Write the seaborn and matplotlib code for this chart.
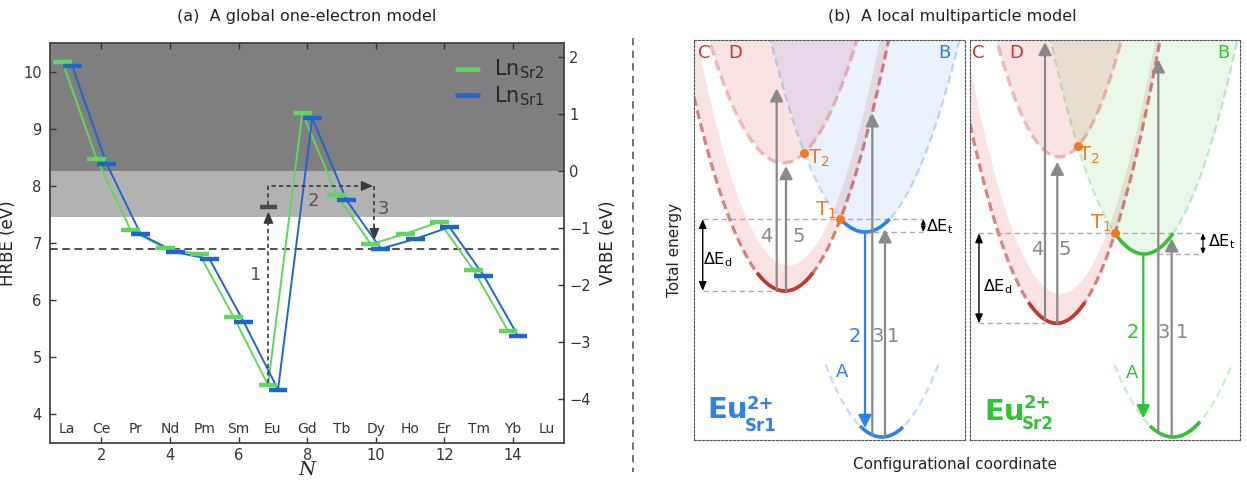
import numpy as np
import pandas as pd
import matplotlib
matplotlib.use("Agg")
import matplotlib.pyplot as plt
import seaborn as sns
from matplotlib.lines import Line2D

# ---------------- panel (a) data ----------------
lanthanides = ['La', 'Ce', 'Pr', 'Nd', 'Pm', 'Sm', 'Eu', 'Gd', 'Tb', 'Dy', 'Ho', 'Er', 'Tm', 'Yb', 'Lu']
n_all = list(range(1, 16))
n_data = list(range(1, 15))
hrbe_sr2 = [10.18, 8.47, 7.22, 6.91, 6.80, 5.70, 4.51, 9.28, 7.84, 6.98, 7.16, 7.37, 6.52, 5.46]
hrbe_sr1 = [10.10, 8.39, 7.15, 6.84, 6.72, 5.62, 4.43, 9.19, 7.75, 6.90, 7.07, 7.28, 6.43, 5.37]
vrbe_zero = 8.265        # HRBE value where VRBE = 0
light_band_bottom = 7.45
dashed_level = 6.90
eu_excited = 7.63
x_ticks = [2, 4, 6, 8, 10, 12, 14]
hrbe_ticks = [4, 5, 6, 7, 8, 9, 10]
vrbe_ticks = [-4, -3, -2, -1, 0, 1, 2]

# ---------------- panel (b) schematic parameters ----------------
# parabolas A, B, C, D : E = e0 + k (x - x0)^2   (box-local units)
sr1_x0 = [188, 171, 91, 89]
sr1_e0 = [3, 208, 149, 277]
sr1_k = [0.0228, 0.0215, 0.0234, 0.0225]
sr2_x0 = [203, 174, 86.7, 89]
sr2_e0 = [3, 186, 116.7, 283]
sr2_k = [0.021, 0.0245, 0.0265, 0.030]
band_offset = [26, 30]
band_k = [0.027, 0.028]
# transitions 4, 5, 3, 1 (up) and 2 (down)
sr1_arrow_x = [82.7, 92, 178.3, 191, 171]
sr1_arrow_end = [351.7, 274, 326.7, 210.7, 12]
sr2_arrow_x = [75, 87.3, 188.3, 201.7, 173.3]
sr2_arrow_end = [398, 278.3, 380.7, 201.7, 21.7]

W, H = 1247, 480
green = '#5fd65f'
blue = '#1f66cc'

sns.set_style("white")
plt.rcParams['font.family'] = ['DejaVu Sans']
plt.rcParams['mathtext.fontset'] = 'dejavusans'

fig = plt.figure(figsize=(W / 100, H / 100), dpi=100)

# ================= panel (a) =================
ax = fig.add_axes([50 / W, 1 - 442.7 / H, (564.3 - 50) / W, (442.7 - 43.3) / H])
ax.set_xlim(0.5, 15.5)
ax.set_ylim(3.5, 10.5)
ax.axhspan(vrbe_zero, 10.5, color='#7f7f7f', lw=0, zorder=0)
ax.axhspan(light_band_bottom, vrbe_zero, color='#b2b2b2', lw=0, zorder=0)
ax.axhline(dashed_level, color='#222222', lw=1.1, ls=(0, (5, 3)), zorder=1)

df = pd.DataFrame({'N': n_data * 2,
                   'HRBE': hrbe_sr2 + hrbe_sr1,
                   'site': ['Sr2'] * len(n_data) + ['Sr1'] * len(n_data)})
df['x'] = df['N'] + df['site'].map({'Sr2': -0.14, 'Sr1': 0.15})
sns.lineplot(data=df, x='x', y='HRBE', hue='site', palette={'Sr2': green, 'Sr1': blue},
             estimator=None, sort=False, lw=1.4, legend=False, ax=ax, zorder=3)
for site, col in [('Sr2', green), ('Sr1', blue)]:
    d = df[df['site'] == site]
    ax.hlines(d['HRBE'], d['x'] - 0.275, d['x'] + 0.275, color=col, lw=3.2, zorder=4)

# Eu excited level + transitions
acol = '#3a3a3a'
ax.hlines([eu_excited], [6.62], [7.13], color='#4a4a4a', lw=3.2, zorder=5)
ax.plot([6.87, 6.87], [4.55, 7.45], color=acol, lw=1.2, ls=(0, (2.5, 2)), zorder=5)
ax.plot([6.87, 6.87, 9.86], [7.66, 8.0, 8.0], color=acol, lw=1.2, ls=(0, (2.5, 2)), zorder=5)
ax.plot([9.96, 9.96], [8.0, 7.12], color=acol, lw=1.2, ls=(0, (2.5, 2)), zorder=5)
hp = dict(arrowstyle='-|>,head_length=0.7,head_width=0.3', color=acol, lw=1.0,
          mutation_scale=10, shrinkA=0, shrinkB=0)
ax.annotate('', xy=(6.87, 7.55), xytext=(6.87, 7.35), arrowprops=hp, zorder=6)
ax.annotate('', xy=(9.92, 8.0), xytext=(9.6, 8.0), arrowprops=hp, zorder=6)
ax.annotate('', xy=(9.96, 7.05), xytext=(9.96, 7.3), arrowprops=hp, zorder=6)
ax.text(6.5, 6.44, '1', fontsize=13, color='#555555', ha='center', va='center')
ax.text(8.18, 7.74, '2', fontsize=13, color='#555555', ha='center', va='center')
ax.text(10.22, 7.59, '3', fontsize=13, color='#555555', ha='center', va='center')

for n, name in zip(n_all, lanthanides):
    ax.text(n, 3.74, name, fontsize=10, color='#333333', ha='center', va='center')

ax.set_xticks(x_ticks)
ax.set_yticks(hrbe_ticks)
ax.tick_params(axis='both', direction='in', length=4, width=1, labelsize=10.5,
               colors='#333333', top=True, right=False, bottom=True, left=True)
ax.tick_params(axis='y', pad=6)
ax.set_xlabel('N', fontsize=14, family='DejaVu Serif', style='italic', labelpad=-1)
ax.set_ylabel('HRBE (eV)', fontsize=12, color='#222222', labelpad=4)
for s in ax.spines.values():
    s.set_color('#444444')
    s.set_linewidth(1.3)

ax2 = ax.twinx()
ax2.set_ylim(3.5 - vrbe_zero, 10.5 - vrbe_zero)
ax2.set_yticks(vrbe_ticks)
ax2.set_yticklabels([('\u2212%d' % -v) if v < 0 else '%d' % v for v in vrbe_ticks])
ax2.tick_params(axis='y', direction='in', length=4, width=1, labelsize=10.5, colors='#333333')
ax2.set_ylabel('VRBE (eV)', fontsize=12, color='#222222', labelpad=6)
for s in ax2.spines.values():
    s.set_visible(False)

leg_handles = [Line2D([], [], color=green, lw=3.4), Line2D([], [], color=blue, lw=3.4)]
ax.legend(leg_handles, [r'Ln$_{\mathrm{Sr2}}$', r'Ln$_{\mathrm{Sr1}}$'], loc='upper right',
          frameon=False, fontsize=15, handlelength=1.0, handletextpad=0.8, labelspacing=0.12,
          borderaxespad=0.3, bbox_to_anchor=(0.99, 1.0))

fig.text(307 / W, 1 - 16 / H, '(a)  A global one-electron model', fontsize=11.5,
         ha='center', va='center', color='#222222')

# separator
fig.add_artist(Line2D([633 / W, 633 / W], [1 - 38 / H, 1 - 472 / H], transform=fig.transFigure,
                      color='#666666', lw=1.3, ls=(0, (4, 3))))

# ================= panel (b) =================
red = '#c0392b'
orange = '#ee7b1e'
gray = '#8a8a8a'


def parab(x, x0, e0, k):
    return e0 + k * (x - x0) ** 2


def crossing(p, q, lo, hi):
    xs = np.linspace(lo, hi, 20001)
    d = parab(xs, *p) - parab(xs, *q)
    i = np.argmin(np.abs(d))
    return xs[i], parab(xs[i], *p)


boxes = [
    dict(left=694, right=965, x0=sr1_x0, e0=sr1_e0, k=sr1_k, boff=band_offset[0], bk=band_k[0],
         col='#2f80ed', ax_=sr1_arrow_x, ae=sr1_arrow_end,
         a_solid=(166, 209),
         lab=dict(C=(4, 387), D=(34, 387), B=(244, 387), A=(147.7, 68.3)),
         num={'4': (72.7, 203.3), '5': (105, 203.3), '2': (161, 103.3), '3': (184, 103.3), '1': (199, 103.3)},
         t2=(114, 282), t1=(121, 230), ded=(24, 180), det=(246, 213),
         eu=(13, 22), sup=(53, 31), sub=(51, 9),
         gl=9, gr=229, bmin_l=179, cmin_r=83, dx_d=8.7, dx_t=229.3, site='Sr1'),
    dict(left=970, right=1240, x0=sr2_x0, e0=sr2_e0, k=sr2_k, boff=band_offset[1], bk=band_k[1],
         col='#34c234', ax_=sr2_arrow_x, ae=sr2_arrow_end,
         a_solid=(180, 230),
         lab=dict(C=(2, 387), D=(39, 387), B=(247, 387), A=(161.7, 66.7)),
         num={'4': (67, 190), '5': (95, 190), '2': (163, 107), '3': (194, 107), '1': (211.7, 107)},
         t2=(108, 285), t1=(120, 217), ded=(27.5, 153.3), det=(251.5, 198.3),
         eu=(14, 20), sup=(54, 32), sub=(52, 11),
         gl=8, gr=231.7, bmin_l=186.7, cmin_r=75, dx_d=9, dx_t=233, site='Sr2'),
]

for b in boxes:
    w = b['right'] - b['left']
    bx = fig.add_axes([b['left'] / W, 1 - 440 / H, w / W, 400 / H])
    bx.set_xlim(0, w)
    bx.set_ylim(0, 400)
    bx.set_xticks([])
    bx.set_yticks([])
    for s in bx.spines.values():
        s.set_linestyle((0, (2, 1.5)))
        s.set_color('#555555')
        s.set_linewidth(0.8)
    pA = (b['x0'][0], b['e0'][0], b['k'][0])
    pB = (b['x0'][1], b['e0'][1], b['k'][1])
    pC = (b['x0'][2], b['e0'][2], b['k'][2])
    pD = (b['x0'][3], b['e0'][3], b['k'][3])
    x = np.linspace(0, w, 800)
    EA, EB, EC, ED = parab(x, *pA), parab(x, *pB), parab(x, *pC), parab(x, *pD)
    Ein = parab(x, pC[0] + 3, pC[1] + b['boff'], b['bk'])
    top = 400
    # fills
    bx.fill_between(x, np.minimum(ED, top), top, color='#e88080', alpha=0.22, lw=0, zorder=1)
    bx.fill_between(x, np.minimum(EC, top), np.minimum(Ein, top), color='#e88080', alpha=0.22, lw=0, zorder=1)
    bx.fill_between(x, np.minimum(EB, top), top, color=b['col'], alpha=0.10, lw=0, zorder=1)
    # dashed parabolas
    bx.plot(x, ED, color='#e07070', alpha=0.45, lw=2.4, dashes=(3.2, 1.6), zorder=2)
    bx.plot(x, EC, color=red, alpha=0.6, lw=2.3, dashes=(2.8, 1.4), zorder=2)
    bx.plot(x, EB, color=b['col'], alpha=0.28, lw=1.7, dashes=(3.3, 1.9), zorder=2)
    mA = EA <= 76
    bx.plot(x[mA], EA[mA], color=b['col'], alpha=0.28, lw=1.7, dashes=(3.3, 1.9), zorder=2)
    # crossings
    t1 = crossing(pC, pB, pC[0], pB[0])
    t2 = crossing(pD, pB, pD[0], pB[0])
    # solid segments
    xs = np.linspace(pC[0] - 28, pC[0] + 28, 100)
    bx.plot(xs, parab(xs, *pC), color=red, lw=2.6, zorder=3, solid_capstyle='butt')
    xs = np.linspace(t1[0], 2 * pB[0] - t1[0], 100)
    bx.plot(xs, parab(xs, *pB), color=b['col'], lw=2.6, zorder=3, solid_capstyle='butt')
    xs = np.linspace(b['a_solid'][0], b['a_solid'][1], 100)
    bx.plot(xs, parab(xs, *pA), color=b['col'], lw=2.6, zorder=3, solid_capstyle='butt')
    # guide lines
    gcol = '#aaaaaa'
    bx.plot([b['gl'], b['gr']], [t1[1], t1[1]], color=gcol, lw=1, ls=(0, (4, 2.5)), zorder=2)
    bx.plot([b['gl'], b['cmin_r']], [pC[1], pC[1]], color=gcol, lw=1, ls=(0, (4, 2.5)), zorder=2)
    bx.plot([b['bmin_l'], b['gr']], [pB[1], pB[1]], color=gcol, lw=1, ls=(0, (4, 2.5)), zorder=2)
    dp = dict(arrowstyle='<|-|>,head_length=0.6,head_width=0.25', color='black', lw=1.0,
              mutation_scale=9, shrinkA=0, shrinkB=0)
    bx.annotate('', xy=(b['dx_d'], t1[1]), xytext=(b['dx_d'], pC[1]), arrowprops=dp, zorder=4)
    dp2 = dict(arrowstyle='<|-|>,head_length=0.35,head_width=0.15', color='black', lw=0.8,
               mutation_scale=9, shrinkA=0, shrinkB=0)
    bx.annotate('', xy=(b['dx_t'], t1[1]), xytext=(b['dx_t'], pB[1]), arrowprops=dp2, zorder=4)
    # transition arrows
    ax_x, ae = b['ax_'], b['ae']
    starts = [parab(ax_x[0], *pC), parab(ax_x[1], *pC), parab(ax_x[2], *pA), parab(ax_x[3], *pA),
              parab(ax_x[4], *pB)]
    ap = dict(arrowstyle='-|>,head_length=0.55,head_width=0.28', lw=1.6, mutation_scale=14,
              shrinkA=0, shrinkB=0)
    for i in range(5):
        c = b['col'] if i == 4 else gray
        bx.annotate('', xy=(ax_x[i], ae[i]), xytext=(ax_x[i], starts[i]),
                    arrowprops=dict(ap, color=c), zorder=4)
    # crossing dots
    bx.plot([t1[0], t2[0]], [t1[1], t2[1]], 'o', ms=6.5, color=orange, mec='none', zorder=6)
    # labels
    for key, (lx, ly) in b['lab'].items():
        c = red if key in ('C', 'D') else b['col']
        bx.text(lx, ly, key, fontsize=13, color=c, ha='left' if key != 'A' else 'center', va='center')
    for key, (lx, ly) in b['num'].items():
        c = b['col'] if key == '2' else '#888888'
        bx.text(lx, ly, key, fontsize=14, color=c, ha='center', va='center')
    bx.text(b['t2'][0], b['t2'][1], r'T$_2$', fontsize=14, color=orange, ha='left', va='center')
    bx.text(b['t1'][0], b['t1'][1], r'T$_1$', fontsize=14, color=orange, ha='left', va='center')
    bx.text(b['ded'][0], b['ded'][1], r'$\Delta$E$_\mathrm{d}$', fontsize=11.5, color='black',
            ha='center', va='center')
    bx.text(b['det'][0], b['det'][1], r'$\Delta$E$_\mathrm{t}$', fontsize=11.5, color='black',
            ha='center', va='center')
    bx.text(b['eu'][0], b['eu'][1], 'Eu', fontsize=21, fontweight='bold', color=b['col'],
            ha='left', va='baseline')
    bx.text(b['sup'][0], b['sup'][1], '2+', fontsize=13, fontweight='bold', color=b['col'],
            ha='left', va='baseline')
    bx.text(b['sub'][0], b['sub'][1], b['site'], fontsize=12, fontweight='bold', color=b['col'],
            ha='left', va='baseline')

fig.text(675 / W, 1 - 250 / H, 'Total energy', rotation=90, fontsize=11, ha='center', va='center',
         color='#222222')
fig.text(955 / W, 1 - 464 / H, 'Configurational coordinate', fontsize=11, ha='center', va='center',
         color='#222222')
fig.text(952 / W, 1 - 16 / H, '(b)  A local multiparticle model', fontsize=11.5, ha='center',
         va='center', color='#222222')

fig.savefig('out.png', dpi=100)
